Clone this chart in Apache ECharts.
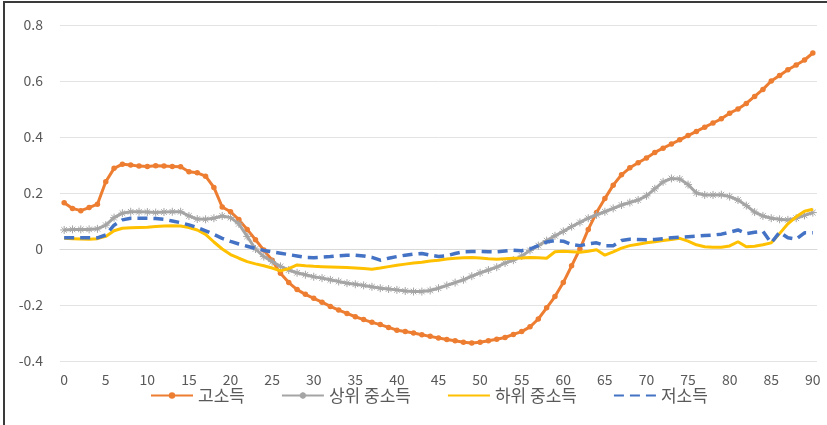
<!DOCTYPE html>
<html>
<head>
<meta charset="utf-8">
<script src="https://cdn.jsdelivr.net/npm/echarts@6/dist/echarts.min.js"></script>
<style>
  html, body { margin: 0; padding: 0; background: #fff; }
  #frame { position: absolute; left: 3px; top: 1px; width: 830px; height: 430px;
           border-top: 2px solid #3a3a3a; border-left: 2px solid #3a3a3a; }
  #chart { position: absolute; left: 0; top: 0; width: 827px; height: 425px; }
</style>
</head>
<body>
<div id="chart"></div>
<div id="frame"></div>
<script>
// x 카테고리 0..90
const categories = []
for (let i = 0; i <= 90; i++) categories.push(String(i))

const seriesNames = ['고소득', '상위 중소득', '하위 중소득', '저소득']

const high = [
  0.165, 0.145, 0.137, 0.148, 0.16, 0.24, 0.288, 0.303, 0.300, 0.296,
  0.295, 0.297, 0.296, 0.295, 0.294, 0.276, 0.272, 0.26, 0.22, 0.15,
  0.133, 0.105, 0.07, 0.033, -0.004, -0.04, -0.087, -0.12, -0.145, -0.162,
  -0.176, -0.19, -0.205, -0.218, -0.23, -0.242, -0.252, -0.262, -0.27, -0.28,
  -0.29, -0.295, -0.30, -0.306, -0.312, -0.318, -0.323, -0.328, -0.333, -0.336,
  -0.333, -0.328, -0.322, -0.316, -0.305, -0.295, -0.278, -0.25, -0.21, -0.17,
  -0.12, -0.06, 0.0, 0.07, 0.13, 0.18, 0.228, 0.265, 0.29, 0.308,
  0.325, 0.345, 0.36, 0.375, 0.39, 0.405, 0.42, 0.435, 0.45, 0.465,
  0.485, 0.5, 0.52, 0.545, 0.57, 0.6, 0.62, 0.64, 0.657, 0.675,
  0.70
]

const upperMid = [
  0.068, 0.07, 0.07, 0.07, 0.072, 0.085, 0.112, 0.128, 0.133, 0.133,
  0.132, 0.13, 0.132, 0.133, 0.133, 0.118, 0.107, 0.106, 0.11, 0.118,
  0.112, 0.09, 0.045, 0.0, -0.027, -0.045, -0.062, -0.075, -0.085, -0.092,
  -0.099, -0.104, -0.11, -0.116, -0.122, -0.126, -0.13, -0.135, -0.14, -0.143,
  -0.146, -0.15, -0.152, -0.152, -0.148, -0.14, -0.13, -0.12, -0.11, -0.097,
  -0.085, -0.075, -0.065, -0.05, -0.04, -0.025, -0.005, 0.012, 0.03, 0.047,
  0.063, 0.08, 0.095, 0.11, 0.122, 0.133, 0.145, 0.157, 0.166, 0.175,
  0.19, 0.215, 0.24, 0.252, 0.25, 0.23, 0.2, 0.193, 0.193, 0.194,
  0.187, 0.175, 0.155, 0.132, 0.118, 0.11, 0.106, 0.104, 0.11, 0.12,
  0.13
]

const lowerMid = [
  0.038, 0.037, 0.036, 0.035, 0.037, 0.045, 0.065, 0.074, 0.076, 0.077,
  0.078, 0.08, 0.082, 0.083, 0.082, 0.077, 0.068, 0.052, 0.025, 0.0,
  -0.02, -0.033, -0.045, -0.053, -0.06, -0.068, -0.078, -0.07, -0.057, -0.06,
  -0.062, -0.063, -0.064, -0.065, -0.066, -0.068, -0.07, -0.072, -0.068, -0.063,
  -0.058, -0.054, -0.05, -0.047, -0.043, -0.04, -0.036, -0.033, -0.031, -0.03,
  -0.032, -0.035, -0.037, -0.035, -0.033, -0.032, -0.03, -0.031, -0.033, -0.01,
  -0.008, -0.01, -0.012, -0.008, -0.003, -0.022, -0.01, 0.003, 0.012, 0.017,
  0.022, 0.026, 0.03, 0.034, 0.038, 0.028, 0.015, 0.008, 0.006, 0.006,
  0.011, 0.026, 0.008, 0.01, 0.015, 0.022, 0.055, 0.09, 0.115, 0.135,
  0.142
]

const low = [
  0.04, 0.04, 0.04, 0.04, 0.04, 0.05, 0.085, 0.104, 0.11, 0.11,
  0.11, 0.109, 0.106, 0.1, 0.094, 0.086, 0.077, 0.065, 0.052, 0.038,
  0.027, 0.018, 0.01, 0.002, -0.005, -0.01, -0.015, -0.02, -0.025, -0.03,
  -0.031, -0.029, -0.027, -0.024, -0.022, -0.022, -0.025, -0.03, -0.04, -0.033,
  -0.027, -0.022, -0.018, -0.016, -0.022, -0.027, -0.024, -0.016, -0.01, -0.009,
  -0.009, -0.01, -0.01, -0.007, -0.004, -0.006, 0.0, 0.012, 0.025, 0.03,
  0.028, 0.016, 0.012, 0.018, 0.022, 0.012, 0.012, 0.03, 0.035, 0.034,
  0.033, 0.034, 0.037, 0.04, 0.042, 0.044, 0.046, 0.048, 0.05, 0.053,
  0.06, 0.068, 0.055, 0.06, 0.063, 0.022, 0.06, 0.04, 0.035, 0.058,
  0.058
]

const FONT = '"Noto Sans CJK KR", "Noto Sans", sans-serif'
const starPath = 'path://M5,0L5,10M0,5L10,5M1.5,1.5L8.5,8.5M8.5,1.5L1.5,8.5'

let chart = echarts.init(document.getElementById('chart'))
let option = {
  animation: false,
  backgroundColor: 'transparent',
  textStyle: { fontFamily: FONT },
  grid: { left: 60, right: 10, top: 25, bottom: 64 },
  legend: {
    bottom: 16,
    left: 145,
    itemWidth: 42,
    itemHeight: 8,
    itemGap: 36,
    textStyle: { fontSize: 17, color: '#595959', fontFamily: FONT },
    data: [
      { name: seriesNames[0] },
      { name: seriesNames[1] },
      { name: seriesNames[2], itemStyle: { opacity: 0 } },
      { name: seriesNames[3], itemStyle: { opacity: 0 } }
    ]
  },
  xAxis: {
    type: 'category',
    data: categories,
    boundaryGap: true,
    axisTick: { show: false },
    axisLine: { onZero: true, lineStyle: { color: '#d9d9d9', width: 1 } },
    axisLabel: { interval: 4, margin: 12, fontSize: 14, color: '#595959', fontFamily: FONT },
    splitLine: { show: false }
  },
  yAxis: {
    type: 'value',
    min: -0.4,
    max: 0.8,
    interval: 0.2,
    axisLine: { show: false },
    axisTick: { show: false },
    axisLabel: { margin: 17, fontSize: 14, color: '#595959', fontFamily: FONT },
    splitLine: { lineStyle: { color: '#e3e3e3', width: 1 } }
  },
  series: [
    {
      name: seriesNames[0], type: 'line', data: high,
      symbol: 'circle', symbolSize: 5.5, showAllSymbol: true,
      lineStyle: { color: '#ED7D31', width: 3 },
      itemStyle: { color: '#ED7D31' },
      z: 2
    },
    {
      name: seriesNames[1], type: 'line', data: upperMid,
      symbol: starPath, symbolSize: 8, showAllSymbol: true,
      lineStyle: { color: '#A5A5A5', width: 3 },
      itemStyle: { color: '#A5A5A5', borderColor: '#A5A5A5', borderWidth: 1 },
      z: 3
    },
    {
      name: seriesNames[2], type: 'line', data: lowerMid,
      showSymbol: false,
      lineStyle: { color: '#FFC000', width: 3 },
      itemStyle: { color: '#FFC000' },
      z: 4
    },
    {
      name: seriesNames[3], type: 'line', data: low,
      showSymbol: false,
      lineStyle: { color: '#4472C4', width: 3.5, type: [10, 6] },
      itemStyle: { color: '#4472C4' },
      z: 5
    }
  ]
}
chart.setOption(option)
</script>
</body>
</html>
